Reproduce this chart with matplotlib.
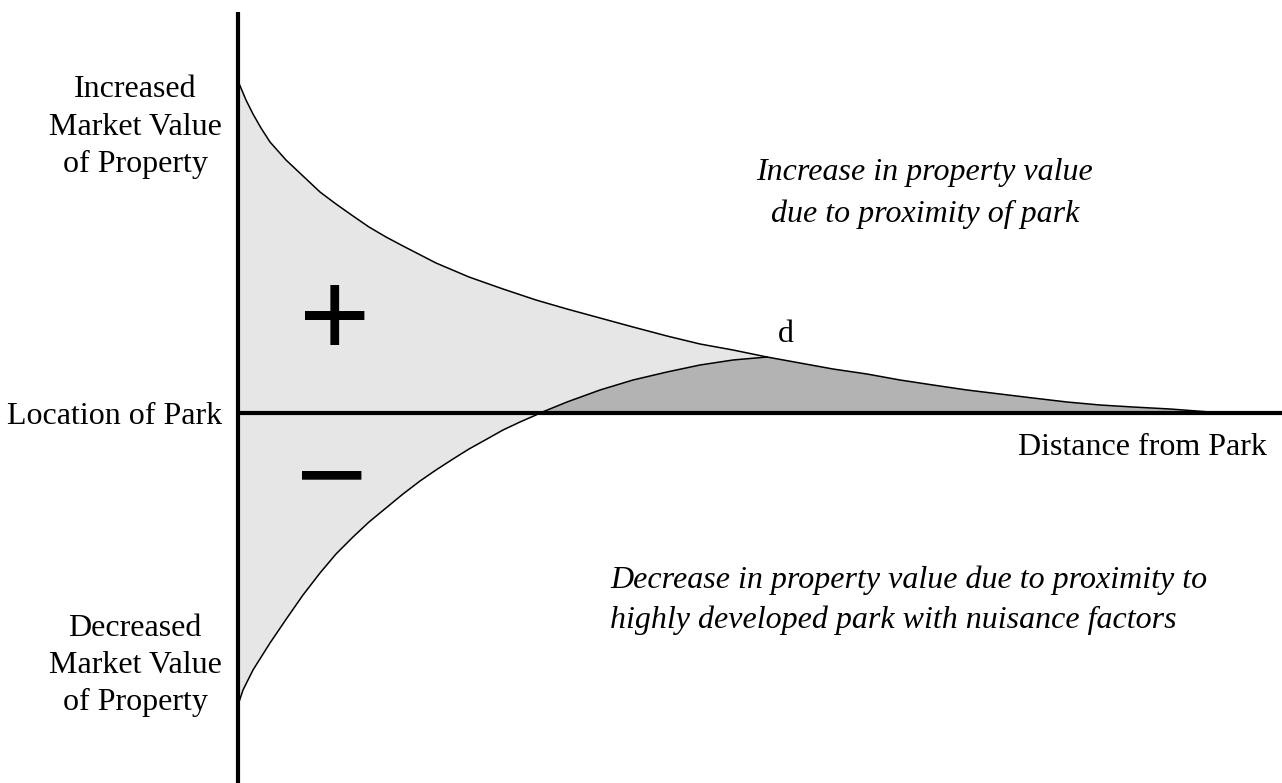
import numpy as np
import matplotlib
matplotlib.use('Agg')
import matplotlib.pyplot as plt

# puntos (x = distancia al parque, y = cambio de valor)
upper_x = [0, 8, 15, 23, 32, 48, 65, 82, 98, 115, 131, 148, 165, 198, 231, 265, 298, 329, 362, 395,
           429, 462, 495, 529, 562, 595, 629, 662, 695, 729, 762, 795, 829, 862, 895, 932, 972, 977]
upper_y = [332, 313, 299, 285, 271, 253, 237, 221, 209, 197, 186, 176, 167, 150, 136, 124, 113, 104, 95, 86,
           77, 69, 63, 56, 50, 44, 39, 33, 28, 23, 19, 15, 11, 8, 6, 4, 1, 0]

lower_x = [0, 5, 15, 32, 49, 65, 82, 98, 115, 131, 148, 165, 182, 198, 215, 231, 249, 265, 282, 298,
           302, 329, 362, 395, 429, 462, 495, 529]
lower_y = [-292, -277, -257, -230, -205, -182, -160, -141, -124, -109, -95, -81, -68, -57, -46, -36, -26, -17, -9, -2,
           0, 11, 23, 33, 41, 48, 53, 56]

d_x = 529  # punto donde se cruzan

left_top = ['Increased', 'Market Value', 'of Property']
left_bot = ['Decreased', 'Market Value', 'of Property']
txt_up = ['Increase in property value', 'due to proximity of park']
txt_down = ['Decrease in property value due to proximity to',
            'highly developed park with nuisance factors']

plt.rcParams['font.family'] = ['Liberation Serif', 'DejaVu Serif']

fig = plt.figure(figsize=(12.82, 7.83), dpi=100)
ax = fig.add_axes([0, 0, 1, 1])
ax.set_xlim(-238, 1044)
ax.set_ylim(-370, 413)
ax.axis('off')

ux = np.array(upper_x); uy = np.array(upper_y)
lx = np.array(lower_x); ly = np.array(lower_y)

# zona gris clara entre las dos curvas
m = ux <= d_x
px = np.concatenate([ux[m], lx[::-1]])
py = np.concatenate([uy[m], ly[::-1]])
ax.fill(px, py, color='#e6e6e6', lw=0, zorder=1)

# zona gris oscura (beneficio neto)
ml = lx >= 302
mu = ux >= d_x
px2 = np.concatenate([lx[ml], ux[mu]])
py2 = np.concatenate([ly[ml], uy[mu]])
ax.fill(px2, py2, color='#b3b3b3', lw=0, zorder=2)

ax.plot(ux, uy, color='black', lw=1.1, solid_joinstyle='round', zorder=3)
ax.plot(lx, ly, color='black', lw=1.1, solid_joinstyle='round', zorder=3)

# ejes
ax.plot([0, 0], [-370, 401], color='black', lw=3, solid_capstyle='butt', zorder=4)
ax.plot([0, 1044], [0, 0], color='black', lw=3, solid_capstyle='butt', zorder=4)

fs = 23
for t, yb in zip(left_top, [316, 278, 241]):
    ax.text(-103, yb, t, fontsize=fs, ha='center', va='baseline')
for t, yb in zip(left_bot, [-223, -260, -297]):
    ax.text(-103, yb, t, fontsize=fs, ha='center', va='baseline')
ax.text(-16, -11, 'Location of Park', fontsize=fs, ha='right', va='baseline')
ax.text(1029, -42, 'Distance from Park', fontsize=fs, ha='right', va='baseline')
ax.text(540, 71, 'd', fontsize=fs, ha='left', va='baseline')

for t, yb in zip(txt_up, [233, 191]):
    ax.text(687, yb, t, fontsize=fs, style='italic', ha='center', va='baseline')
for t, yb in zip(txt_down, [-175, -215]):
    ax.text(372, yb, t, fontsize=fs, style='italic', ha='left', va='baseline')

ax.text(97, 57, '+', fontsize=88, family='Liberation Sans', ha='center', va='baseline', zorder=5)
ax.text(94, -102, '\u2212', fontsize=88, family='Liberation Sans', ha='center', va='baseline', zorder=5)

fig.savefig('out.png', dpi=100)
